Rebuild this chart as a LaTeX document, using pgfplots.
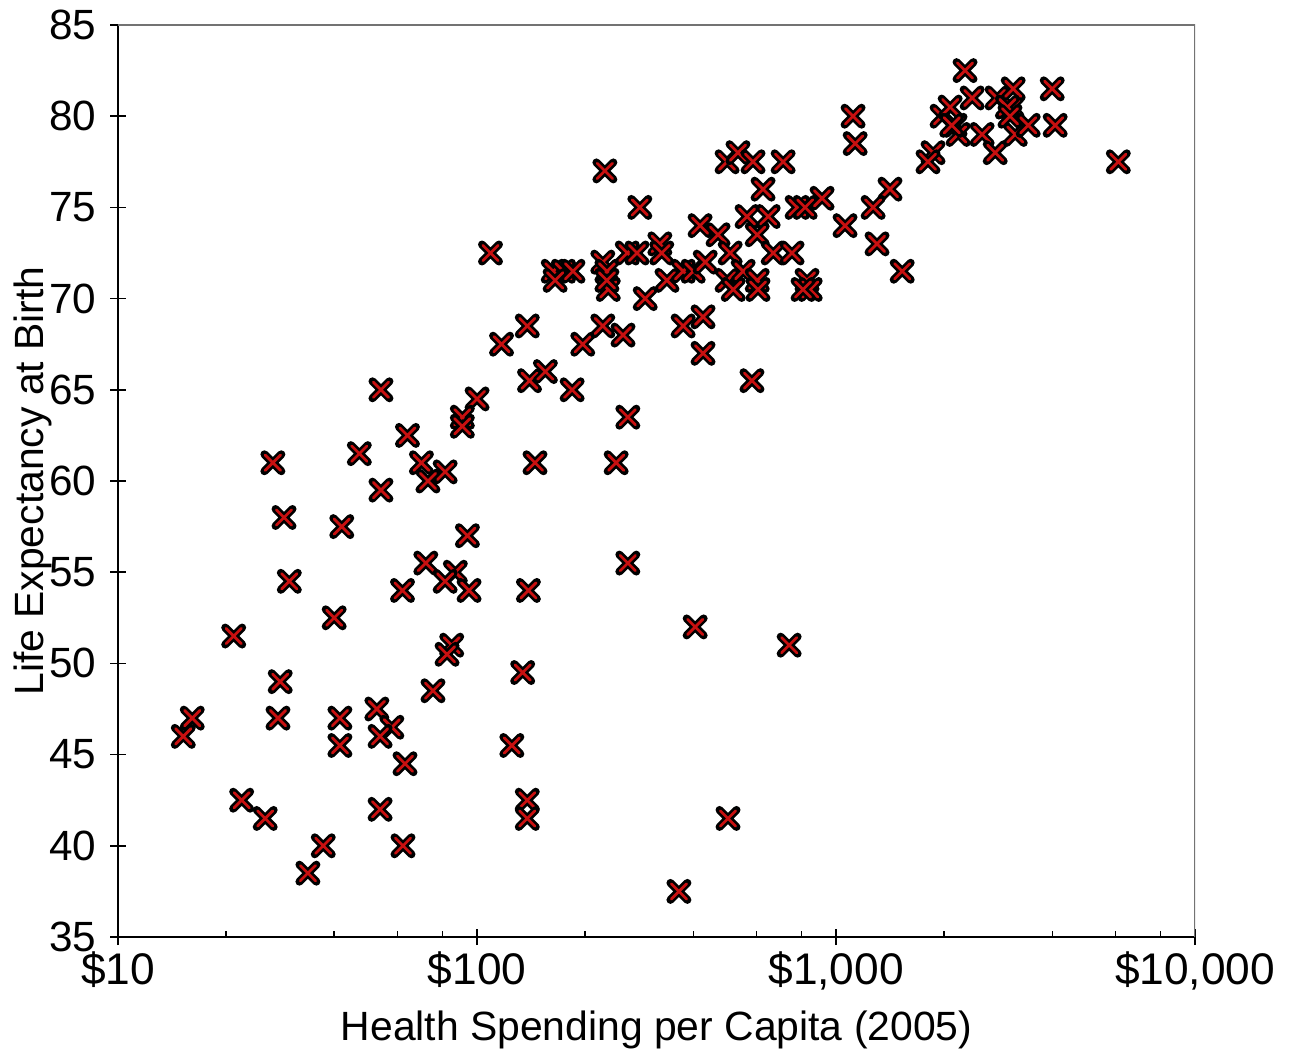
\documentclass[border=0pt]{standalone}
\usepackage{pgfplots}
\usepackage{pgfplotstable}
\pgfplotsset{compat=1.18}
\usepackage{fontspec}
\setmainfont{Liberation Sans}
\definecolor{mred}{RGB}{200,16,16}
\pgfdeclareplotmark{rx}{%
  \pgfsetroundcap
  \pgfsetlinewidth{2.8pt}\pgfsetstrokecolor{black}%
  \pgfpathmoveto{\pgfqpoint{-0.707\pgfplotmarksize}{-0.707\pgfplotmarksize}}%
  \pgfpathlineto{\pgfqpoint{0.707\pgfplotmarksize}{0.707\pgfplotmarksize}}%
  \pgfpathmoveto{\pgfqpoint{-0.707\pgfplotmarksize}{0.707\pgfplotmarksize}}%
  \pgfpathlineto{\pgfqpoint{0.707\pgfplotmarksize}{-0.707\pgfplotmarksize}}%
  \pgfusepathqstroke
  \pgfsetlinewidth{0.95pt}\pgfsetstrokecolor{mred}%
  \pgfpathmoveto{\pgfqpoint{-0.64\pgfplotmarksize}{-0.64\pgfplotmarksize}}%
  \pgfpathlineto{\pgfqpoint{0.64\pgfplotmarksize}{0.64\pgfplotmarksize}}%
  \pgfpathmoveto{\pgfqpoint{-0.64\pgfplotmarksize}{0.64\pgfplotmarksize}}%
  \pgfpathlineto{\pgfqpoint{0.64\pgfplotmarksize}{-0.64\pgfplotmarksize}}%
  \pgfusepathqstroke
}
\pgfplotstableread{
x y
227 77
284 75
109 72.5
163 71.5
174 71.5
185 71.5
165 71
224 72
230 71.5
232 70.5
230 71
262 72.5
279 72.5
323 73
327 72.5
294 70
338 71
375 71.5
400 71.5
432 72
418 74
469 73.5
497 77.5
533 78
587 77.5
712 77.5
626 76
565 74.5
647 74.5
603 73.5
507 72.5
497 71
517 70.5
551 71.5
603 71
606 70.5
668 72.5
754 72.5
779 75
820 75
914 75.5
830 71
847 70.5
809 70.5
1130 78.5
1413 76
1268 75
1059 74
1300 73
1528 71.5
117 67.5
138 68.5
197 67.5
224 68.5
255 68
375 68.5
426 69
426 67
1115 80
1974 80
2078 80.5
2144 79.5
2187 79
2286 82.5
2393 81
2551 79
2774 78
2808 81
3090 80.5
3113 81.5
3155 79
3428 79.5
3999 81.5
4075 79.5
1862 78
1803 77.5
6110 77.5
3000 80.5
3050 80
2100 79.5
140 65.5
155 66
54 65
100 64.5
91 63.5
91 63
64 62.5
47 61.5
27 61
145 61
70 61
81.5 60.5
73 60
54 59.5
29 58
42 57.5
94 57
72 55.5
87 55
81.5 54.5
30 54.5
62 54
95 54
139 54
40 52.5
21 51.5
85 51
82.5 50.5
134 49.5
28.3 49
75.4 48.5
16.1 47
15.2 46
27.9 47
41.5 47
52.6 47.5
57.9 46.5
53.7 46
41.5 45.5
63 44.5
125 45.5
22.1 42.5
25.7 41.5
53.7 42
138 42.5
138 41.5
37.3 40
62.2 40
33.8 38.5
263 55.5
405 52
740 51
500 41.5
365 37.5
263 63.5
244 61
583 65.5
184 65
}\data
\begin{document}
\begin{tikzpicture}
\path[use as bounding box] (-41.3pt,-42pt) rectangle (413pt,327.95pt);
\begin{axis}[
  at={(0,0)}, anchor=south west,
  scale only axis, width=377pt, height=319.2pt,
  xmode=log, xmin=10, xmax=10000, ymin=35, ymax=85,
  axis x line*=bottom, axis y line*=left,
  axis line style={line width=1pt, black, -},
  xtick={10,100,1000,10000},
  xticklabels={{\$10},{\$100},{\$1,000},{\$10,000}},
  minor xtick={20,40,60,80,200,400,600,800,2000,4000,6000,8000},
  ytick={35,40,45,50,55,60,65,70,75,80,85},
  yticklabels={35,40,45,50,55,60,65,70,75,80,85},
  tick align=center, major tick length=5.6pt, minor tick length=2.1pt,
  every minor tick/.append style={yshift=1.05pt},
  tick style={black, line width=0.5pt},
  xticklabel style={inner sep=0pt, yshift=-2.2pt, font=\fontsize{15.5}{18}\selectfont},
  yticklabel style={inner sep=0pt, xshift=-4.6pt, font=\fontsize{14.8}{18}\selectfont},
  xlabel={Health Spending per Capita (2005)},
  ylabel={Life Expectancy at Birth},
  label style={font=\fontsize{14.3}{17}\selectfont},
  xlabel style={at={(axis description cs:0.5,-0.102)}, anchor=center},
  ylabel style={at={(axis description cs:-0.079,0.5)}, anchor=center},
]
\draw[black!55, line width=0.7pt] (rel axis cs:-0.008,1) -- (rel axis cs:1,1) -- (rel axis cs:1,0);
\addplot[only marks, mark=rx, mark size=4.2pt] table {\data};
\end{axis}
\end{tikzpicture}
\end{document}
